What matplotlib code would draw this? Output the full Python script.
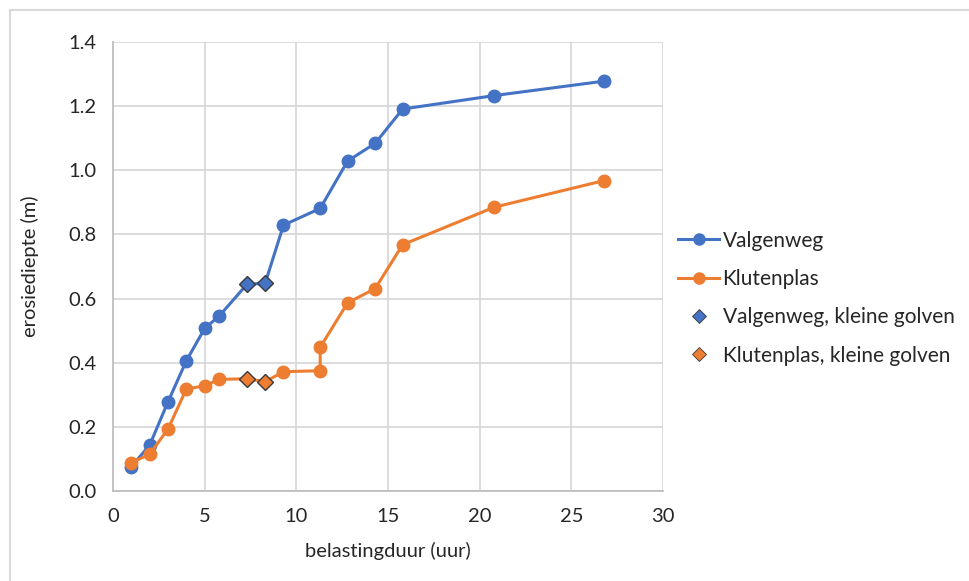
import matplotlib
matplotlib.use("Agg")
import matplotlib.pyplot as plt
from matplotlib.patches import Rectangle
from matplotlib.lines import Line2D

plt.rcParams['font.family'] = ['Lato', 'DejaVu Sans']

# Data
valgen_x = [1.0, 2.0, 3.0, 4.0, 5.0, 5.8, 7.3, 8.3, 9.3, 11.3, 12.8, 14.3, 15.8, 20.8, 26.8]
valgen_y = [0.076, 0.143, 0.278, 0.406, 0.507, 0.546, 0.644, 0.648, 0.829, 0.881, 1.029, 1.084, 1.191, 1.233, 1.278]
kluten_x = [1.0, 2.0, 3.0, 4.0, 5.0, 5.8, 7.3, 8.3, 9.3, 11.3, 11.3, 12.8, 14.3, 15.8, 20.8, 26.8]
kluten_y = [0.088, 0.115, 0.193, 0.318, 0.328, 0.348, 0.350, 0.341, 0.372, 0.375, 0.448, 0.587, 0.631, 0.768, 0.885, 0.968]
valgen_small_x = [7.3, 8.3]
valgen_small_y = [0.644, 0.648]
kluten_small_x = [7.3, 8.3]
kluten_small_y = [0.350, 0.341]

x_ticks = [0, 5, 10, 15, 20, 25, 30]
y_ticks = [0.0, 0.2, 0.4, 0.6, 0.8, 1.0, 1.2, 1.4]

blue = '#4472C4'
orange = '#ED7D31'
text_col = '#262626'

fig = plt.figure(figsize=(9.70, 5.81), dpi=100)
fig.patch.set_facecolor('white')
# outer frame
fig.patches.append(Rectangle((10/970, -0.05), 1.1, 1 - 10/581 + 0.05, transform=fig.transFigure,
                             fill=False, edgecolor='#d9d9d9', linewidth=1.5, zorder=0))

ax = fig.add_axes([113/970, 1 - 491/581, (663-113)/970, (491-42)/581])

def mark_idx(xs, ys, sx, sy):
    small = set(zip(sx, sy))
    return [i for i, (a, b) in enumerate(zip(xs, ys)) if (a, b) not in small]

ax.plot(valgen_x, valgen_y, color=blue, lw=2.2, marker='o', ms=9,
        markevery=mark_idx(valgen_x, valgen_y, valgen_small_x, valgen_small_y), zorder=3)
ax.plot(kluten_x, kluten_y, color=orange, lw=2.2, marker='o', ms=9,
        markevery=mark_idx(kluten_x, kluten_y, kluten_small_x, kluten_small_y), zorder=3)
ax.plot(valgen_small_x, valgen_small_y, ls='none', marker='D', ms=8, mfc=blue, mec='#3a3a3a', mew=1, zorder=4)
ax.plot(kluten_small_x, kluten_small_y, ls='none', marker='D', ms=8, mfc=orange, mec='#3a3a3a', mew=1, zorder=4)

ax.set_xlim(0, 30)
ax.set_ylim(0, 1.4)
ax.set_xticks(x_ticks)
ax.set_yticks(y_ticks)
ax.set_yticklabels([f'{v:.1f}' for v in y_ticks])
ax.grid(True, color='#d9d9d9', lw=1.3)
ax.set_axisbelow(True)
for s in ['top', 'right']:
    ax.spines[s].set_visible(False)
for s in ['left', 'bottom']:
    ax.spines[s].set_color('#bfbfbf')
    ax.spines[s].set_linewidth(1.3)
ax.tick_params(length=0, labelsize=14.5, colors=text_col, pad=12)
ax.set_xlabel('belastingduur (uur)', fontsize=14.5, color=text_col, va='center')
ax.set_ylabel('erosiediepte (m)', fontsize=14.5, color=text_col, va='center')
ax.xaxis.set_label_coords(0.5, (491 - 551) / 449)
ax.yaxis.set_label_coords((30 - 113) / 550, 0.5)

handles = [
    Line2D([], [], color=blue, lw=2.2, marker='o', ms=8),
    Line2D([], [], color=orange, lw=2.2, marker='o', ms=8),
    Line2D([], [], ls='none', color=blue, marker='D', ms=7, mfc=blue, mec='#3a3a3a', mew=0.6),
    Line2D([], [], ls='none', color=orange, marker='D', ms=7, mfc=orange, mec='#3a3a3a', mew=0.6),
]
labels = ['Valgenweg', 'Klutenplas', 'Valgenweg, kleine golven', 'Klutenplas, kleine golven']
fig.legend(handles, labels, loc='upper left', bbox_to_anchor=(659/970, 1 - 212/581),
           frameon=False, fontsize=15, labelspacing=0.88, handlelength=2.0, handletextpad=0.15,
           labelcolor=text_col)

fig.savefig('out.png', dpi=100)
